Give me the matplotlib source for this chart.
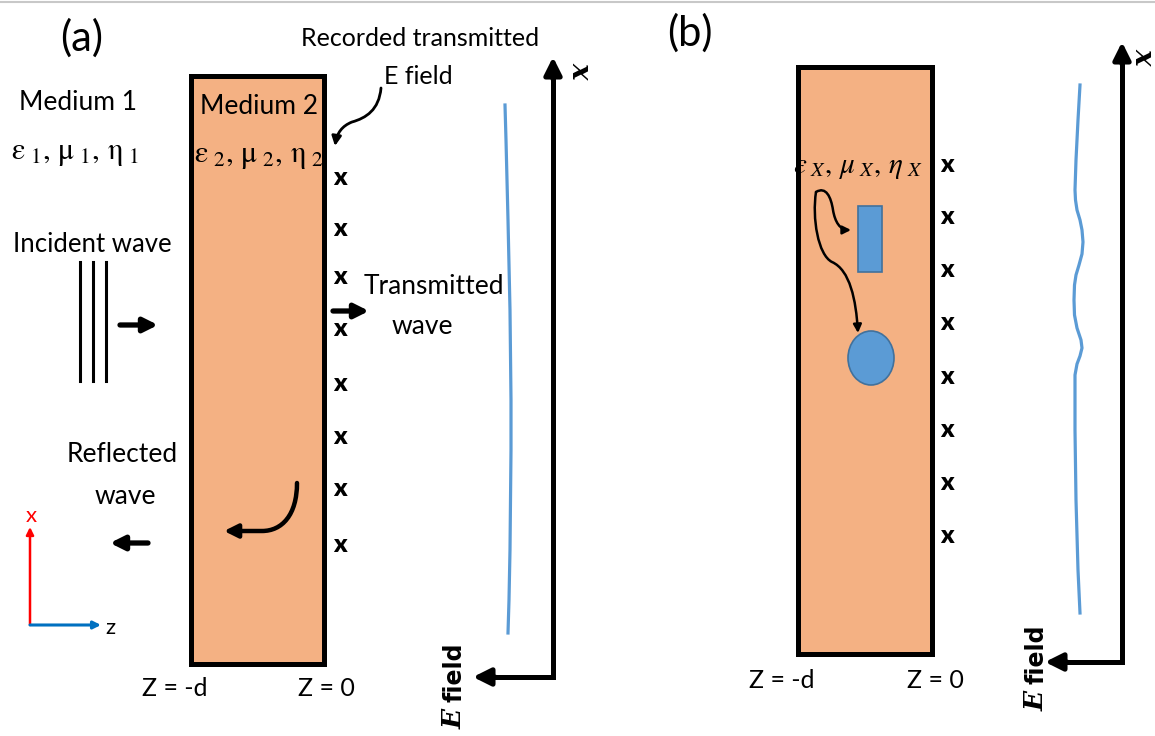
import matplotlib.pyplot as plt
from matplotlib.patches import Rectangle, Ellipse, FancyArrowPatch
from matplotlib.path import Path

plt.rcParams['font.family'] = ['Lato', 'DejaVu Sans']
plt.rcParams['mathtext.fontset'] = 'stix'

# rows of recorded field points (x marks), pixel rows
marks_a_y = [178, 229, 277, 329, 384, 437, 489, 545]
marks_b_y = [165, 217, 270, 323, 377, 430, 483, 536]

# recorded transmitted field traces
field_a_x = [505, 506, 507, 508, 509, 510, 510.5, 511, 511, 510.5, 510, 509, 508]
field_a_y = [105, 140, 180, 220, 265, 310, 355, 400, 450, 500, 550, 600, 633]
field_b_x = [1080, 1078, 1076, 1075, 1075.5, 1077, 1080, 1082, 1083, 1082, 1079, 1076, 1074.5,
             1074, 1074.5, 1077, 1081, 1082, 1080, 1077, 1075, 1075, 1076, 1078, 1080]
field_b_y = [85, 120, 160, 190, 200, 210, 220, 230, 242, 254, 265, 275, 285,
             300, 315, 328, 340, 348, 356, 364, 375, 430, 500, 570, 613]

slab_color = '#F4B183'
blue = '#5B9BD5'

fig = plt.figure(figsize=(11.55, 7.36), dpi=100)
ax = fig.add_axes([0, 0, 1, 1])
ax.set_xlim(0, 1155)
ax.set_ylim(736, 0)
ax.axis('off')

ax.axhline(2, color='#c8c8c8', lw=1.5)


def arrow(tail, tip, lw=3.8, ms=21, color='k'):
    ax.annotate('', xy=tip, xytext=tail,
                arrowprops=dict(arrowstyle='-|>', lw=lw, color=color,
                                mutation_scale=ms, shrinkA=0, shrinkB=0))


def curved(verts, lw=2, ms=14):
    codes = [Path.MOVETO] + [Path.CURVE4] * (len(verts) - 1)
    p = FancyArrowPatch(path=Path(verts, codes), arrowstyle='-|>',
                        mutation_scale=ms, lw=lw, color='k')
    ax.add_patch(p)


def field_axes(xc, yc, ytop, xleft, tx, ty, ex, ey):
    ax.plot([xleft + 20, xc, xc], [yc, yc, ytop + 20], color='k', lw=3.6,
            solid_joinstyle='miter')
    arrow((xc, ytop + 22), (xc, ytop), lw=3.6, ms=26)
    arrow((xleft + 22, yc), (xleft, yc), lw=3.6, ms=26)
    ax.text(tx, ty, 'x', family='DejaVu Serif', style='italic', weight='bold',
            fontsize=20, rotation=-90, ha='center', va='center')
    ax.text(ex, ey + 33, 'E', family='DejaVu Serif', style='italic',
            weight='bold', fontsize=19, rotation=90, ha='center', va='center')
    ax.text(ex, ey - 14, 'field', family='DejaVu Sans', weight='bold',
            fontsize=17, rotation=90, ha='center', va='center')


greek1 = r'$\mathrm{\varepsilon}_{\ 1},\,\mathrm{\mu}_{\ 1},\,\mathrm{\eta}_{\ 1}$'
greek2 = r'$\mathrm{\varepsilon}_{\ 2},\,\mathrm{\mu}_{\ 2},\,\mathrm{\eta}_{\ 2}$'
greekx = r'$\varepsilon_{\ X},\,\mu_{\ X},\,\eta_{\ X}$'

# ---------------- panel (a)
ax.text(82, 38, '(a)', fontsize=30, ha='center', va='center')
ax.add_patch(Rectangle((190.5, 75.5), 133, 588, facecolor=slab_color,
                       edgecolor='k', lw=3.6))
ax.text(259, 106, 'Medium 2', fontsize=19, ha='center', va='center')
ax.text(259, 157, greek2, fontsize=22, ha='center', va='center')
ax.text(78, 103, 'Medium 1', fontsize=19, ha='center', va='center')
ax.text(75, 154, greek1, fontsize=22, ha='center', va='center')
ax.text(420, 38, 'Recorded transmitted', fontsize=18, ha='center', va='center')
ax.text(418, 77, 'E field', fontsize=18, ha='center', va='center')
curved([(381, 88), (379, 110), (366, 118), (352, 122),
        (342, 126), (337, 133), (335, 146)])

for y in marks_a_y:
    ax.text(340, y, 'x', fontsize=18, weight='heavy', ha='center', va='center')

ax.text(92, 245, 'Incident wave', fontsize=18.5, ha='center', va='center')
for x in [80, 93, 106]:
    ax.plot([x, x], [262, 381], color='k', lw=2.2)
arrow((120, 325), (158, 325))
ax.text(434, 287, 'Transmitted', fontsize=19, ha='center', va='center')
ax.text(422, 327, 'wave', fontsize=19, ha='center', va='center')
arrow((333, 311), (369, 311))
ax.text(122, 455, 'Reflected', fontsize=19, ha='center', va='center')
ax.text(125, 496, 'wave', fontsize=19, ha='center', va='center')
arrow((148, 543), (110, 543))
curved([(297, 483), (297, 515), (282, 531), (262, 531),
        (250, 531), (238, 531), (224, 531)], lw=3.2, ms=20)

# small x/z axes
arrow((30, 625), (30, 527), lw=1.8, ms=11, color='#FF0000')
arrow((30, 625), (101, 625), lw=2.2, ms=11, color='#0070C0')
ax.text(31, 516, 'x', fontsize=16, color='#FF0000', ha='center', va='center')
ax.text(110, 628, 'z', fontsize=16, ha='center', va='center')

ax.text(175, 688, 'Z = -d', fontsize=18, ha='center', va='center')
ax.text(326, 688, 'Z = 0', fontsize=18, ha='center', va='center')

ax.plot(field_a_x, field_a_y, color=blue, lw=2.3)
field_axes(553, 677, 57, 473, 580, 70, 454, 686)

# ---------------- panel (b)
ax.text(690, 33, '(b)', fontsize=30, ha='center', va='center')
ax.add_patch(Rectangle((797.5, 66.5), 134, 587, facecolor=slab_color,
                       edgecolor='k', lw=3.6))
ax.text(858, 168, greekx, fontsize=21, ha='center', va='center')
ax.add_patch(Rectangle((858, 206), 24, 66, facecolor=blue,
                       edgecolor='#41719C', lw=1.2))
ax.add_patch(Ellipse((871, 358), 46, 54, facecolor=blue,
                     edgecolor='#41719C', lw=1.2))
curved([(816, 192), (826, 186), (831, 197), (833, 210),
        (835, 222), (840, 230), (851, 230)], lw=1.8, ms=12)
curved([(816, 192), (812, 218), (818, 255), (832, 262),
        (850, 270), (856, 300), (858, 333)], lw=1.8, ms=12)

for y in marks_b_y:
    ax.text(947, y, 'x', fontsize=18, weight='heavy', ha='center', va='center')

ax.text(782, 680, 'Z = -d', fontsize=18, ha='center', va='center')
ax.text(935, 680, 'Z = 0', fontsize=18, ha='center', va='center')

ax.plot(field_b_x, field_b_y, color=blue, lw=2.3)
field_axes(1122, 662, 42, 1045, 1143, 56, 1036, 668)

fig.savefig('out.png', dpi=100)
